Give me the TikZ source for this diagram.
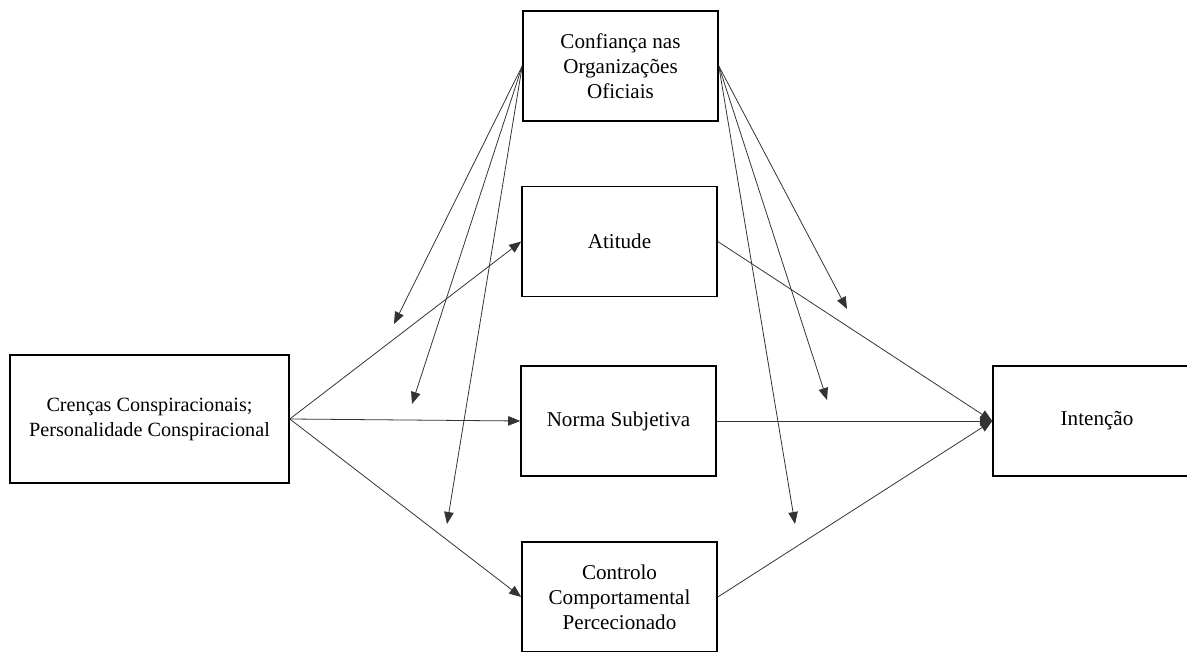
\documentclass[tikz,border=0pt]{standalone}
\usepackage{fontspec}
\setmainfont{Liberation Serif}
\usetikzlibrary{arrows.meta}

\begin{document}
\begin{tikzpicture}[
    >={Triangle[length=2.4mm,width=1.9mm]},
    caixa/.style={draw, line width=0.9pt, minimum width=3.9cm, minimum height=2.2cm, align=center, font=\fontsize{12}{14.2}\selectfont},
    seta/.style={->, line width=0.45pt, draw=black!80}
  ]
  \useasboundingbox (0,0) rectangle (23.74,13.02);

  \node[caixa] (conf) at (12.41,11.70) {Confiança nas\\Organizações\\Oficiais};
  \node[caixa] (atit) at (12.39,8.19) {Atitude};
  \node[caixa] (norma) at (12.37,4.60) {Norma Subjetiva};
  \node[caixa] (contr) at (12.39,1.08) {Controlo\\Comportamental\\Percecionado};
  \node[caixa, minimum width=5.58cm, minimum height=2.56cm, font=\fontsize{11.5}{14.2}\selectfont] (cren) at (2.99,4.64) {Crenças Conspiracionais;\\Personalidade Conspiracional};
  \node[caixa, minimum width=4.16cm] (inten) at (21.94,4.60) {Intenção};

  % moderacao
  \coordinate (l1) at (7.88,6.54);
  \coordinate (l2) at (8.24,4.94);
  \coordinate (l3) at (8.94,2.54);
  \coordinate (r1) at (16.94,6.84);
  \coordinate (r2) at (16.54,5.02);
  \coordinate (r3) at (15.90,2.54);

  \foreach \p in {l1,l2,l3} \draw[seta] (conf.west) -- (\p);
  \foreach \p in {r1,r2,r3} \draw[seta] (conf.east) -- (\p);

  \foreach \b in {atit,norma,contr} {
    \draw[seta] (cren.east) -- (\b.west);
    \draw[seta] (\b.east) -- (inten.west);
  }
\end{tikzpicture}
\end{document}
